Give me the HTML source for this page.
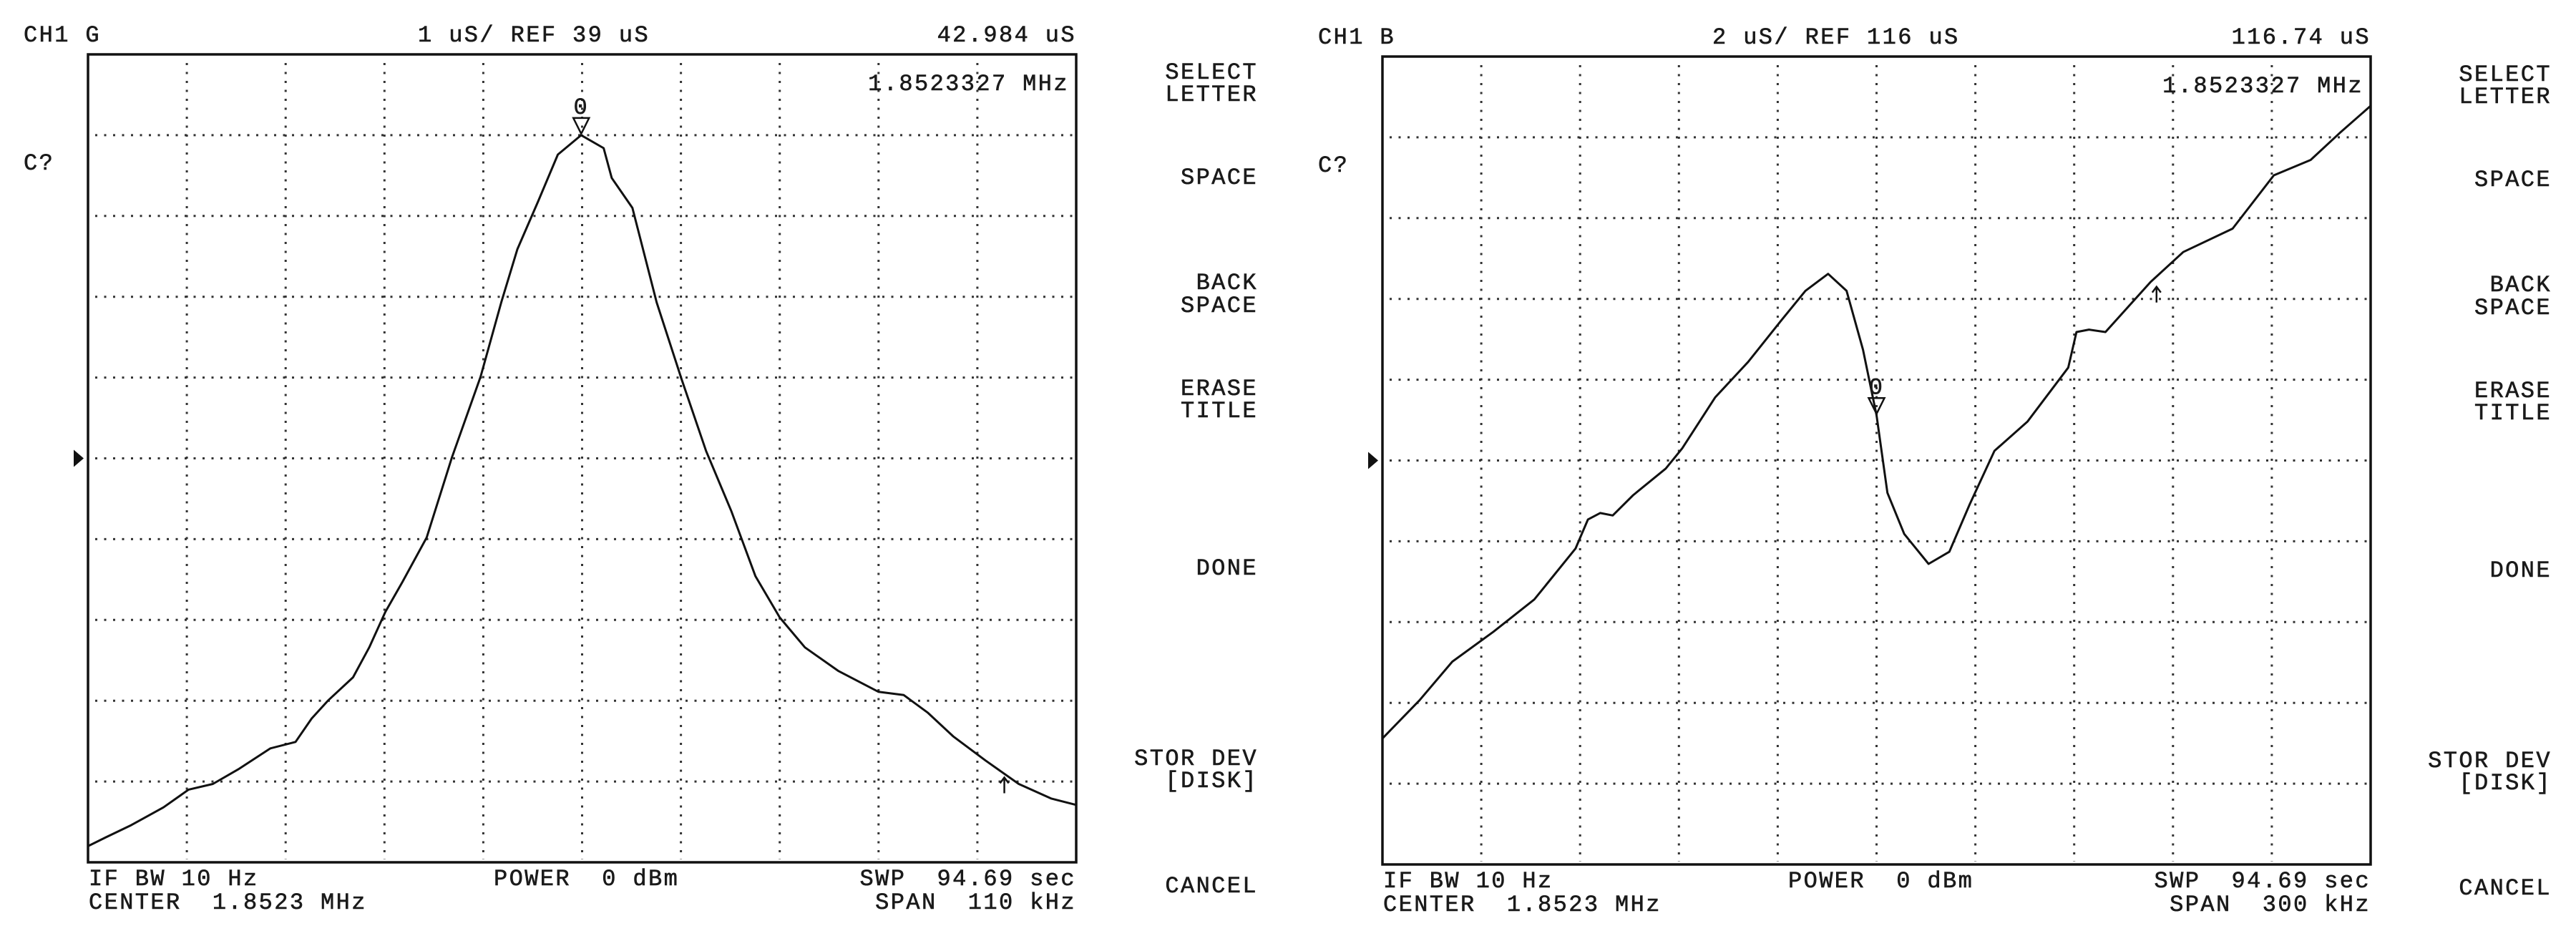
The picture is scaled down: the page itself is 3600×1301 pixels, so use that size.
<!DOCTYPE html>
<html><head><meta charset="utf-8"><style>
html,body{margin:0;padding:0;background:#fff;}
svg{display:block;}
text{font-family:"Liberation Mono",monospace;font-size:32px;letter-spacing:2.4px;fill:#1a1a1a;white-space:pre;stroke:#1a1a1a;stroke-width:0.6px;}
</style></head><body>
<svg id="s" width="3600" height="1301" viewBox="0 0 3600 1301" xmlns="http://www.w3.org/2000/svg" xml:space="preserve"></svg>
<script>
// Left panel data: frequency offset (kHz from center) and group delay (uS)
const leftFreq = [-55,-53,-50.2,-46.6,-43.8,-41.1,-38.3,-34.7,-31.9,-30.1,-28.3,-25.5,-23.7,-21.9,-20,-17.3,-14.5,-11.3,-9,-7.2,-4.9,-2.7,-0.1,2.4,3.3,5.6,8.3,11.1,13.8,16.6,19.3,22,24.8,28.5,33,35.8,38.5,41.3,44.9,48.6,52.2,55];
const leftVal = [34.2,34.31,34.46,34.68,34.9,34.97,35.15,35.41,35.49,35.78,36,36.29,36.66,37.1,37.47,38.02,39.01,40.01,40.93,41.59,42.18,42.76,43,42.84,42.47,42.1,40.93,39.97,39.09,38.35,37.54,37.03,36.66,36.37,36.11,36.07,35.85,35.56,35.26,34.97,34.79,34.71];
// Right panel data
const rightFreq = [-150,-138.8,-128.8,-116.3,-103.9,-91.4,-87.6,-83.9,-80.1,-73.9,-64,-59,-49,-39,-29,-21.6,-14.7,-9.1,-4.1,0,3.3,8.4,15.8,22.1,28.3,35.8,45.8,58.2,60.7,64.5,69.5,83.2,93.1,108.1,120.6,131.8,140.5,150];
const rightVal = [109.12,110.06,111.02,111.76,112.56,113.82,114.54,114.7,114.64,115.14,115.8,116.3,117.56,118.44,119.46,120.2,120.62,120.2,118.74,117.12,115.2,114.18,113.44,113.74,114.92,116.24,116.96,118.3,119.18,119.24,119.18,120.42,121.16,121.74,123.06,123.44,124.1,124.78];
const menuLabels = [["SELECT","LETTER"],["SPACE"],["BACK","SPACE"],["ERASE","TITLE"],["DONE"],["STOR DEV","[DISK]"],["CANCEL"]];

const NS="http://www.w3.org/2000/svg";
const svg=document.getElementById('s');
function mk(tag,attrs,parent,txt){const e=document.createElementNS(NS,tag);for(const k in attrs)e.setAttribute(k,attrs[k]);if(txt!==undefined)e.textContent=txt;(parent||svg).appendChild(e);return e;}

function panel(cfg){
  const g=mk('g',{});
  
  
  const L=cfg.x,T=cfg.y,W=1381,H=1129;
  const xs=f=>L+(f-cfg.fmin)/(cfg.fmax-cfg.fmin)*W;
  const ys=v=>T+(cfg.vmax-v)/(cfg.vmax-cfg.vmin)*H;
  for(let i=1;i<10;i++){
    const gx=L+i*W/10, gy=T+i*H/10;
    const v=mk('line',{x1:gx,y1:T+12,x2:gx,y2:T+H-4,stroke:'#333','stroke-width':3,'stroke-dasharray':'3 9.5'},g);
    
    
    const h=mk('line',{x1:L+10,y1:gy,x2:L+W-4,y2:gy,stroke:'#333','stroke-width':3,'stroke-dasharray':'3 9.5'},g);
    
    
  }
  const box=mk('rect',{x:L,y:T,width:W,height:H,fill:'none',stroke:'#111','stroke-width':3.5},g);
  
  
  let d='';cfg.freq.forEach((f,i)=>{d+=(i?'L':'M')+xs(f).toFixed(1)+' '+ys(cfg.val[i]).toFixed(1);});
  const tr=mk('path',{d:d,fill:'none',stroke:'#111','stroke-width':3,'stroke-linejoin':'round'},g);
  
  
  const mx=xs(cfg.markerF), my=ys(cfg.markerV);
  const tri=mk('path',{d:`M${mx-11} ${my-24}L${mx+11} ${my-24}L${mx} ${my-2}Z`,fill:'none',stroke:'#111','stroke-width':2.5},g);
  
  
  const mt=mk('text',{x:mx,y:my-30,'text-anchor':'middle'},g,'0');
  
  
  const ax=xs(cfg.arrowF), ay=ys(cfg.arrowV);
  const ar=mk('path',{d:`M${ax} ${ay}L${ax} ${ay+22}M${ax-6} ${ay+8}L${ax} ${ay}L${ax+6} ${ay+8}`,fill:'none',stroke:'#111','stroke-width':2.5},g);
  
  
  const ry=T+H/2;
  const rp=mk('path',{d:`M${L-20} ${ry-12}L${L-6} ${ry}L${L-20} ${ry+12}Z`,fill:'#111'},g);
  
  
  const texts=[
    ['channel-label',L-90,T-18,'start',cfg.ch],
    ['scale-label',L+461,T-18,'start',cfg.scale],
    ['marker-value',L+W,T-18,'end',cfg.mval],
    ['marker-frequency',L+W-10,T+50,'end','1.8523327 MHz'],
    ['title-prompt',L-90,T+161,'start','C?'],
    ['if-bandwidth',L+1,T+H+32,'start','IF BW 10 Hz'],
    ['center-frequency',L+1,T+H+65,'start','CENTER  1.8523 MHz'],
    ['power-label',L+567,T+H+32,'start','POWER  0 dBm'],
    ['sweep-time',L+W,T+H+32,'end','SWP  94.69 sec'],
    ['span-label',L+W,T+H+65,'end','SPAN  '+cfg.span]
  ];
  texts.forEach(t=>{const e=mk('text',{x:t[1],y:t[2],'text-anchor':t[3]},g,t[4]);
    
    });
  const menuY=[[110,141],[257],[404,436],[552,583],[803],[1069,1100],[1247]];
  const mxr=cfg.menuX;
  menuLabels.forEach((lines,i)=>{
    const mg=mk('g',{},g);
    
    
    lines.forEach((ln,j)=>{mk('text',{x:mxr,y:menuY[i][j]+cfg.dy,'text-anchor':'end'},mg,ln);});
  });
}
panel({name:'left-panel-ch1-g',x:123,y:76,fmin:-55,fmax:55,vmin:34,vmax:44,freq:leftFreq,val:leftVal,markerF:-0.1,markerV:43,arrowF:47,arrowV:35.05,ch:'CH1 G',scale:'1 uS/ REF 39 uS',mval:'42.984 uS',span:'110 kHz',menuX:1758,dy:0});
panel({name:'right-panel-ch1-b',x:1932,y:79,fmin:-150,fmax:150,vmin:106,vmax:126,freq:rightFreq,val:rightVal,markerF:0,markerV:117.12,arrowF:85,arrowV:120.3,ch:'CH1 B',scale:'2 uS/ REF 116 uS',mval:'116.74 uS',span:'300 kHz',menuX:3566,dy:3});
</script>
</body></html>
